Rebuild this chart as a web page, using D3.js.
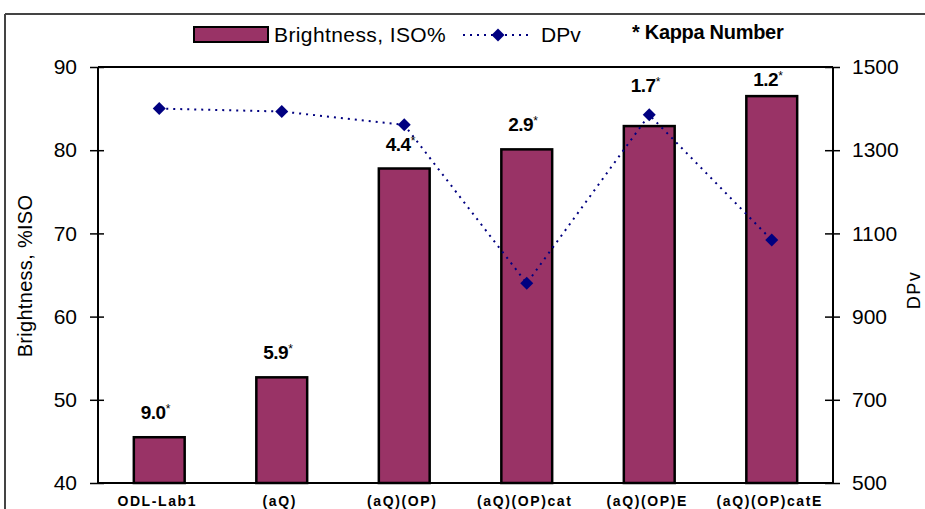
<!DOCTYPE html>
<html>
<head>
<meta charset="utf-8">
<script src="https://cdn.jsdelivr.net/npm/d3@7"></script>
<style>
  html, body { margin: 0; padding: 0; background: #fff; }
  svg { display: block; font-family: "Liberation Sans", Arial, sans-serif; }
</style>
</head>
<body>
<svg id="chart" width="925" height="509"></svg>
<script>
const categories = ["ODL-Lab1", "(aQ)", "(aQ)(OP)", "(aQ)(OP)cat", "(aQ)(OP)E", "(aQ)(OP)catE"];
const brightness = [45.5, 52.7, 77.8, 80.1, 82.9, 86.5];
const dpv = [1400, 1393, 1361, 980, 1385, 1084];
const kappa = ["9.0", "5.9", "4.4", "2.9", "1.7", "1.2"];
const leftTicks = [40, 50, 60, 70, 80, 90];
const rightTicks = [500, 700, 900, 1100, 1300, 1500];

const svg = d3.select("#chart");
const L = 98, R = 833, T = 67, B = 483;
const barColor = "#993366", lineColor = "#000080";

const x = d3.scaleBand().domain(categories).range([L, R]).padding(0);
const cx = d => x(d) + x.bandwidth() / 2;
const barW = x.bandwidth() * 0.415;
const yL = d3.scaleLinear().domain([40, 90]).range([B, T]);
const yR = d3.scaleLinear().domain([500, 1500]).range([B, T]);

// outer chart border (top and left visible)
svg.append("line").attr("x1", 5).attr("x2", 925).attr("y1", 14).attr("y2", 14)
  .attr("stroke", "#444").attr("stroke-width", 2);
svg.append("line").attr("x1", 5).attr("x2", 5).attr("y1", 14).attr("y2", 509)
  .attr("stroke", "#444").attr("stroke-width", 2);

// bars
svg.append("g").selectAll("rect").data(categories).join("rect")
  .attr("x", d => cx(d) - barW / 2)
  .attr("width", barW)
  .attr("y", (d, i) => yL(brightness[i]))
  .attr("height", (d, i) => B - yL(brightness[i]))
  .attr("fill", barColor).attr("stroke", "#000").attr("stroke-width", 2.5);

// plot frame
svg.append("line").attr("x1", L).attr("x2", R).attr("y1", T).attr("y2", T).attr("stroke", "#000").attr("stroke-width", 2);
svg.append("line").attr("x1", L).attr("x2", R).attr("y1", B).attr("y2", B).attr("stroke", "#000").attr("stroke-width", 2);

// left axis
const gl = svg.append("g").attr("transform", `translate(${L},0)`)
  .call(d3.axisLeft(yL).tickValues(leftTicks).tickSize(8).tickPadding(13).tickFormat(d3.format("d")));
gl.select(".domain").attr("stroke", "#000").attr("stroke-width", 2).attr("d", `M0,${T}V${B}`);
gl.selectAll(".tick line").attr("x1", 6).attr("x2", -8).attr("stroke", "#000").attr("stroke-width", 1.5);
gl.selectAll(".tick text").attr("font-size", 21).attr("fill", "#000").attr("font-family", "Liberation Sans, Arial, sans-serif");

// right axis
const gr = svg.append("g").attr("transform", `translate(${R},0)`)
  .call(d3.axisRight(yR).tickValues(rightTicks).tickSize(7).tickPadding(12).tickFormat(d3.format("d")));
gr.select(".domain").attr("stroke", "#000").attr("stroke-width", 2).attr("d", `M0,${T}V${B}`);
gr.selectAll(".tick line").attr("x1", -8).attr("x2", 7).attr("stroke", "#000").attr("stroke-width", 1.5);
gr.selectAll(".tick text").attr("font-size", 21).attr("fill", "#000").attr("font-family", "Liberation Sans, Arial, sans-serif");

// category labels
svg.append("g").selectAll("text").data(categories).join("text")
  .attr("x", d => cx(d) - 2).attr("y", 506)
  .attr("text-anchor", "middle").attr("font-size", 14).attr("font-weight", "bold")
  .attr("letter-spacing", 1.6).text(d => d);

// DPv line + markers
const line = d3.line().x((d, i) => cx(categories[i])).y(d => yR(d));
svg.append("path").datum(dpv).attr("d", line)
  .attr("fill", "none").attr("stroke", lineColor).attr("stroke-width", 2).attr("stroke-dasharray", "2,5");
const diamond = d3.symbol(d3.symbolSquare, 84)();
svg.append("g").selectAll("path").data(dpv).join("path")
  .attr("d", diamond)
  .attr("transform", (d, i) => `translate(${cx(categories[i])},${yR(d)}) rotate(45)`)
  .attr("fill", lineColor);

// kappa number labels
const kl = svg.append("g").selectAll("text").data(kappa).join("text")
  .attr("x", (d, i) => cx(categories[i]) - 4)
  .attr("y", (d, i) => {
    const top = yL(brightness[i]);
    const my = yR(dpv[i]);
    if (my < top && my > top - 25) return my - 23;
    return Math.max(top - 18, T + 19);
  })
  .attr("text-anchor", "middle").attr("font-size", 19).attr("font-weight", "bold")
  .attr("letter-spacing", -0.5);
kl.append("tspan").text(d => d);
kl.append("tspan").attr("dy", -6).attr("font-size", 12).attr("font-weight", "normal").text("*");

// axis titles
svg.append("text").attr("transform", "translate(32,276) rotate(-90)")
  .attr("text-anchor", "middle").attr("font-size", 20).attr("letter-spacing", 0.3).text("Brightness, %ISO");
svg.append("text").attr("transform", "translate(920,290) rotate(-90)")
  .attr("text-anchor", "middle").attr("font-size", 18).attr("letter-spacing", 1.5).text("DPv");

// legend
const lg = svg.append("g");
lg.append("rect").attr("x", 194).attr("y", 27).attr("width", 74).attr("height", 15)
  .attr("fill", barColor).attr("stroke", "#000").attr("stroke-width", 2);
lg.append("text").attr("x", 274).attr("y", 42).attr("font-size", 21).attr("letter-spacing", 0.4).text("Brightness, ISO%");
lg.append("line").attr("x1", 463).attr("x2", 532).attr("y1", 35).attr("y2", 35)
  .attr("stroke", lineColor).attr("stroke-width", 2).attr("stroke-dasharray", "2,5");
lg.append("path").attr("d", diamond).attr("transform", "translate(498,35) rotate(45)").attr("fill", lineColor);
lg.append("text").attr("x", 541).attr("y", 42).attr("font-size", 21).text("DPv");
lg.append("text").attr("x", 632).attr("y", 39).attr("font-size", 20).attr("font-weight", "bold").attr("letter-spacing", -0.3).text("* Kappa Number");
</script>
</body>
</html>
